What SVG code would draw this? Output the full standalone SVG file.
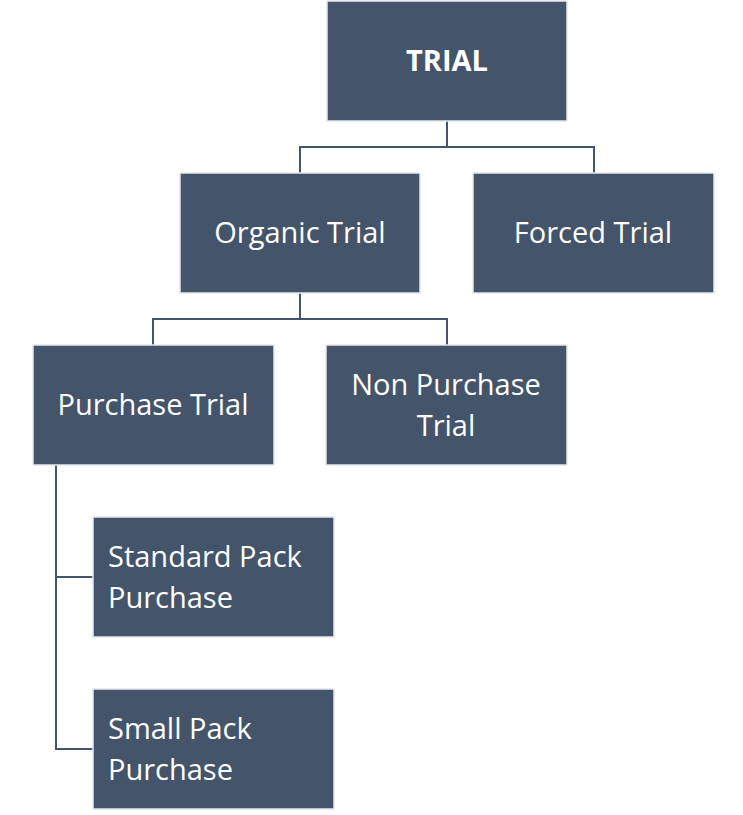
<svg xmlns="http://www.w3.org/2000/svg" width="743" height="815" viewBox="0 0 743 815">
<style>
.b{fill:#44546A;stroke:#E6E8EC;stroke-width:1.5}
.t{fill:#fff;font-family:"Open Sans","Liberation Sans",sans-serif;font-size:29px}
.c{text-anchor:middle}
.l{fill:none;stroke:#44546A;stroke-width:2}
</style>
<rect width="743" height="815" fill="#fff"/>
<g id="connectors" class="l">
<path d="M447 121V147M300 173V147H594V173"/>
<path d="M300 293V319M153 345V319H447V345"/>
<path d="M56 465V749H93M56 577H93"/>
</g>
<g id="trial"><rect class="b" x="327" y="1" width="240" height="120"/><text class="t c" x="447" y="71" font-weight="bold">TRIAL</text></g>
<g id="organic"><rect class="b" x="180" y="173" width="240" height="120"/><text class="t c" x="300" y="243">Organic Trial</text></g>
<g id="forced"><rect class="b" x="473" y="173" width="241" height="120"/><text class="t c" x="593" y="243">Forced Trial</text></g>
<g id="purchase"><rect class="b" x="33" y="345" width="241" height="120"/><text class="t c" x="153" y="415">Purchase Trial</text></g>
<g id="nonpurchase"><rect class="b" x="326" y="345" width="241" height="120"/><text class="t c" x="446" y="395">Non Purchase</text><text class="t c" x="446" y="436">Trial</text></g>
<g id="standard"><rect class="b" x="93" y="517" width="241" height="120"/><text class="t" x="108" y="567">Standard Pack</text><text class="t" x="108" y="608">Purchase</text></g>
<g id="small"><rect class="b" x="93" y="689" width="241" height="120"/><text class="t" x="108" y="739">Small Pack</text><text class="t" x="108" y="780">Purchase</text></g>
</svg>
